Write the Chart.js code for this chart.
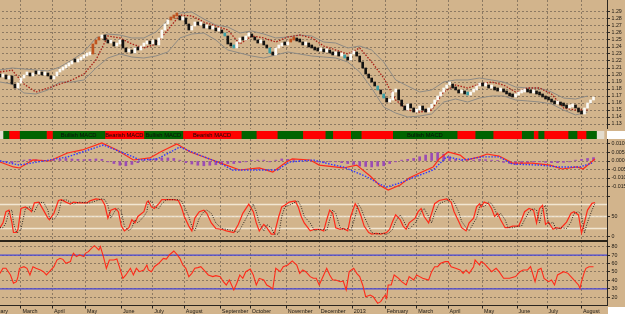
<!DOCTYPE html>
<html><head><meta charset="utf-8">
<script src="https://cdn.jsdelivr.net/npm/chart.js@4.4.1/dist/chart.umd.min.js"></script>
<style>
html,body{margin:0;padding:0;width:625px;height:314px;overflow:hidden;background:#D2B48C;}
canvas{position:absolute;}
.box{position:absolute;}
</style></head><body>
<canvas id="cPrice" width="655" height="129" style="left:-30px;top:0"></canvas>
<canvas id="cStatus" width="637" height="8" style="left:-30px;top:131px"></canvas>
<canvas id="cMacd" width="655" height="54" style="left:-30px;top:139px"></canvas>
<canvas id="cStoch" width="655" height="48" style="left:-30px;top:193px"></canvas>
<canvas id="cRsi" width="655" height="73" style="left:-30px;top:241px"></canvas>
<div class="box" style="left:0;top:240px;width:607px;height:2px;background:#2b2419"></div>
<div class="box" style="left:607px;top:131px;width:18px;height:8px;background:#fff"></div>
<div class="box" style="left:608px;top:307px;width:17px;height:7px;background:#fff"></div>
<script>
// ---------- DATA (x unit = trading day) ----------
const X_MIN = -20, X_MAX = 405;
const monthDays   = [-10,14,35,57,81,102,123,147,167,191,213,235,257,278,299,322,345,365,388];
const monthLabels = ['February','March','April','May','June','July','August','September','October','November','December','2013','February','March','April','May','June','July','August'];

// closes sampled every 2 trading days
const PRICE_STEP = 2;
const closes = [
1.1971,1.2000,1.1943,1.1986,1.1871,1.1814,1.1886,1.1957,1.2000,1.2014,
1.1986,1.2029,1.2014,1.2043,1.2000,1.2014,1.1986,1.1943,1.1986,1.2043,
1.2071,1.2100,1.2129,1.2157,1.2186,1.2186,1.2214,1.2243,1.2271,1.2286,
1.2300,1.2443,1.2500,1.2529,1.2571,1.2500,1.2457,1.2471,1.2414,1.2443,
1.2500,1.2386,1.2329,1.2357,1.2314,1.2386,1.2357,1.2414,1.2443,1.2471,
1.2443,1.2500,1.2429,1.2529,1.2643,1.2729,1.2786,1.2814,1.2857,1.2843,
1.2786,1.2814,1.2729,1.2643,1.2700,1.2757,
1.2714,1.2729,1.2671,1.2686,1.2657,1.2671,1.2629,1.2643,1.2600,1.2557,
1.2443,1.2414,1.2386,1.2471,1.2529,1.2500,1.2557,1.2586,1.2543,1.2500,
1.2457,1.2486,1.2429,1.2386,1.2314,1.2286,1.2386,1.2414,1.2443,1.2429,
1.2471,1.2500,1.2514,1.2486,1.2471,1.2429,1.2457,1.2400,1.2386,1.2357,
1.2343,1.2371,1.2329,1.2357,1.2314,1.2286,1.2329,1.2271,1.2286,1.2243,
1.2214,1.2300,1.2329,1.2271,1.2186,1.2100,1.2014,1.1957,1.1900,1.1843,
1.1786,1.1729,1.1671,1.1614,1.1643,1.1757,1.1786,1.1643,1.1557,1.1500,
1.1586,1.1529,1.1471,1.1500,
1.1557,1.1500,1.1471,1.1529,1.1586,1.1643,1.1700,1.1757,1.1814,1.1857,
1.1871,1.1814,1.1786,1.1743,1.1771,1.1729,1.1714,1.1757,1.1786,1.1843,
1.1871,1.1843,1.1857,1.1814,1.1829,1.1786,1.1771,1.1800,1.1757,1.1729,
1.1700,1.1686,1.1714,1.1743,1.1757,1.1786,1.1757,1.1743,1.1771,1.1729,
1.1714,1.1686,1.1657,1.1643,1.1614,1.1586,1.1600,1.1571,1.1557,1.1529,
1.1543,1.1571,1.1529,1.1471,1.1443,1.1529,1.1600,1.1643,1.1671];
const cyanDays   = [150,156,180,230,252,256,312];
const orangeDays = [62,64,66,114,116,118,194,196];

// bands and stop line sampled every 8 trading days
const BAND_STEP = 8;
const bandUpper = [1.2071,1.2100,1.2086,1.2071,1.2057,1.2114,1.2214,1.2329,1.2529,1.2586,
1.2571,1.2529,1.2529,1.2614,1.2786,1.2886,1.2900,1.2800,1.2714,1.2686,
1.2600,1.2629,1.2586,1.2529,1.2543,1.2571,1.2557,1.2471,1.2457,1.2386,
1.2414,1.2357,1.2186,1.1929,1.1843,1.1757,1.1786,1.1900,1.1929,1.1929,
1.1957,1.1929,1.1900,1.1829,1.1814,1.1814,1.1757,1.1671,1.1657,1.1700];
const bandLower = [1.1900,1.1871,1.1743,1.1729,1.1786,1.1900,1.1900,1.1929,1.2100,1.2243,
1.2300,1.2257,1.2243,1.2271,1.2329,1.2529,1.2586,1.2600,1.2500,1.2357,
1.2314,1.2271,1.2243,1.2286,1.2329,1.2300,1.2271,1.2257,1.2243,1.2186,
1.2043,1.1814,1.1543,1.1457,1.1400,1.1414,1.1443,1.1614,1.1657,1.1614,
1.1671,1.1700,1.1700,1.1643,1.1629,1.1614,1.1586,1.1500,1.1429,1.1471];
const stopLine = [1.2043,1.2071,1.1871,1.1757,1.1814,1.1871,1.1929,1.2014,1.2214,1.2557,
1.2529,1.2443,1.2386,1.2443,1.2643,1.2857,1.2843,1.2757,1.2700,1.2643,
1.2443,1.2557,1.2529,1.2471,1.2543,1.2571,1.2529,1.2414,1.2357,1.2300,
1.2386,1.2186,1.1957,1.1643,1.1500,1.1471,1.1500,1.1757,1.1857,1.1814,
1.1871,1.1900,1.1857,1.1757,1.1814,1.1814,1.1729,1.1529,1.1500,1.1500];
const priceTicks = [1.13,1.14,1.15,1.16,1.17,1.18,1.19,1.20,1.21,1.22,1.23,1.24,1.25,1.26,1.27,1.28,1.29];

// MACD status strip
const segBounds = [0,2,6,13,31,35,70,96,122,161,171,185,202,217,222,234,241,262,305,317,329,348,356,359,363,379,385,391,398,403];
const segStates = ['N','B','S','B','S','B','S','B','S','B','S','B','S','B','S','B','S','B','S','B','S','B','S','B','S','B','S','B','N'];

// MACD
const macdDays = [0,9,13,22,33,45,55,68,78,89,100,107,118,127,138,151,160,173,182,191,195,207,213,229,238,247,253,259,267,273,280,289,293,299,307,311,320,325,333,342,355,367,375,385,389,397];
const macdVals = [-0.0006,-0.0035,-0.0041,0.0006,0,0.0047,0.0065,0.0106,0.0065,0.0006,
0.0018,0.0053,0.0100,0.0053,0.0018,-0.0024,-0.0053,-0.0041,-0.0065,-0.0006,
0.0012,0.0006,-0.0024,-0.0041,-0.0024,-0.0088,-0.0141,-0.0171,-0.0141,-0.0100,
-0.0071,-0.0035,0.0012,0.0053,0.0035,0.0006,0.0024,0.0041,0.0029,-0.0012,
-0.0012,-0.0024,-0.0047,-0.0035,-0.0047,0.0012];
const signalDays = [0,13,33,45,55,69,89,93,105,120,133,147,155,169,185,193,209,220,229,245,253,258,267,275,289,298,309,322,333,342,360,373,387,395];
const signalVals = [0,-0.0024,0.0006,0.0024,0.0053,0.0094,0.0024,0.0006,0.0012,0.0082,
0.0035,-0.0012,-0.0053,-0.0053,-0.0053,-0.0006,0.0006,-0.0018,-0.0035,-0.0094,
-0.0135,-0.0153,-0.0129,-0.0100,-0.0053,0.0024,0.0006,0.0024,0.0024,-0.0018,
-0.0024,-0.0035,-0.0035,-0.0012];
const HIST_STEP = 4;
const histVals = [0.0003,-0.0005,-0.001,-0.0005,0.0005,0.001,0.0008,0.0005,0.0002,0.0005,
0.001,0.0015,0.0012,0.001,0.0008,0.001,0.0012,0.001,-0.0005,-0.0015,
-0.0025,-0.0028,-0.002,-0.001,0.0005,0.001,0.0015,0.0018,0.0018,0.0015,
0.0005,-0.001,-0.0018,-0.0025,-0.0028,-0.0025,-0.0022,-0.0018,-0.0015,-0.0015,
-0.001,-0.0005,0.0003,0.0005,0.0005,-0.0005,0.0005,0.0012,0.001,0.0008,
0.0003,0.0002,-0.0003,-0.0005,-0.0008,-0.0005,-0.0005,-0.001,-0.0015,-0.002,
-0.003,-0.0032,-0.0035,-0.003,-0.0028,-0.0015,-0.0005,0.0005,0.001,0.0015,
0.0025,0.0035,0.0045,0.005,0.004,0.0025,0.001,0.0005,0.0003,0.0005,
0.001,0.0008,0.0005,0.0002,-0.0008,-0.0015,-0.002,-0.0015,-0.001,-0.0005,
-0.0005,-0.0008,-0.001,-0.001,-0.0008,-0.0005,0.0005,0.001,0.0015,0.002];
const macdTicks = [-0.015,-0.010,-0.005,0,0.005,0.010];

// Stochastic
const stochDays = [0,2,4,6,8,9,11,12,14,17,20,21,23,26,29,32,33,36,39,41,44,47,49,53,58,60,64,68,70,72,
74,77,79,81,83,86,88,90,92,96,98,99,101,103,106,108,111,116,119,121,123,126,128,130,133,136,138,141,144,148,
151,156,159,162,166,169,171,173,176,178,181,183,186,188,190,193,197,199,201,203,207,210,213,216,218,220,222,224,227,229,
232,234,237,239,241,243,246,248,251,254,258,260,262,264,267,269,271,273,277,279,281,283,286,288,290,293,298,301,303,306,
308,311,313,316,318,320,321,323,326,328,330,332,334,337,339,342,346,348,350,353,356,358,360,362,364,366,369,371,374,378,
381,383,386,388,390,392,395,397];
const stochK = [22,34,62,66,34,10,10,18,70,74,66,62,84,86,66,46,42,58,90,92,86,81,86,84,84,89,94,92,78,46,
66,70,62,26,14,22,42,34,50,62,86,89,74,70,82,92,92,92,90,74,50,26,14,46,62,66,58,34,20,18,
14,10,30,58,81,62,34,14,30,22,6,6,50,74,78,86,89,74,50,34,14,18,18,14,42,66,58,22,18,20,
14,50,82,70,50,26,10,6,8,6,10,18,38,54,42,26,18,34,46,62,70,50,34,58,82,90,94,86,62,38,
22,14,34,46,74,82,74,86,82,70,50,58,42,22,22,26,26,42,62,70,66,34,70,78,30,36,18,22,20,36,
58,62,54,9,36,66,83,85];
const stochD = [22,22,34,62,66,34,10,10,18,70,74,66,62,84,86,66,46,42,58,90,92,86,81,86,84,84,89,94,92,78,
46,66,70,62,26,14,22,42,34,50,62,86,89,74,70,82,92,92,92,90,74,50,26,14,46,62,66,58,34,20,
18,14,10,30,58,81,62,34,14,30,22,6,6,50,74,78,86,89,74,50,34,14,18,18,14,42,66,58,22,18,
20,14,50,82,70,50,26,10,6,8,6,10,18,38,54,42,26,18,34,46,62,70,50,34,58,82,90,94,86,62,
38,22,14,34,46,74,82,74,86,82,70,50,58,42,22,22,26,26,42,62,70,66,34,70,78,30,36,18,22,20,
36,58,62,54,9,36,66,83];
const stochLevels = [20,50,80];
const stochTicks = [0,50,100];

// RSI
const rsiDays = [0,2,4,7,9,11,12,13,16,18,20,22,24,27,29,31,33,36,38,40,42,44,47,48,49,51,53,56,57,59,
61,63,66,67,69,71,73,76,78,80,82,84,87,89,91,93,96,98,99,101,103,106,109,111,113,116,118,120,122,124,
126,128,130,132,134,137,139,142,144,147,149,151,153,156,158,160,162,164,167,169,171,173,176,178,180,182,184,187,189,192,
195,198,200,202,204,207,209,211,213,216,218,220,222,224,227,229,231,233,236,238,240,242,244,247,249,252,254,257,258,259,
261,263,266,268,271,273,276,278,280,282,286,288,290,292,294,297,299,301,304,307,309,311,313,316,317,320,321,323,326,328,
331,333,336,340,344,347,349,352,354,357,359,361,363,366,368,370,372,376,379,382,386,387,388,390,391,393,396];
const rsiVals = [48.4,54.4,54.4,46.5,36.6,38.5,44.5,54.4,56.3,54.4,46.5,56.3,54.4,52.4,50.4,46.5,50.4,56.3,64.2,66.2,
65.0,60.3,62.3,68.2,72.2,68.2,70.2,68.2,72.2,74.1,78.1,81.2,76.1,80.1,68.2,54.4,64.2,64.2,65.4,54.4,
42.5,46.5,54.4,46.5,54.4,50.4,52.4,58.3,52.4,50.4,56.3,60.3,66.2,65.4,70.2,74.9,71.0,66.2,58.3,54.4,
44.5,48.4,54.4,55.2,56.3,50.4,46.5,44.5,45.7,44.5,38.5,34.6,40.5,28.7,36.6,46.5,42.5,50.4,53.6,46.5,
34.6,42.5,40.5,34.6,32.6,29.8,54.4,50.4,56.3,58.3,63.1,58.3,
48.4,52.4,50.4,44.5,42.5,42.5,34.6,46.5,54.4,46.5,40.5,40.5,38.5,39.3,28.7,50.4,54.4,48.4,44.5,34.6,
20.7,22.7,20.7,12.8,14.8,22.7,18.8,34.6,34.6,46.5,42.5,38.5,34.6,44.5,40.5,46.5,44.5,42.5,40.5,50.4,
56.3,56.3,60.3,62.3,62.3,56.3,54.4,52.4,48.4,52.4,48.4,56.3,64.2,58.3,62.3,60.3,54.4,50.4,54.4,50.4,
42.5,42.5,44.5,50.4,52.4,52.4,56.3,38.5,52.4,54.4,42.5,38.5,40.5,34.6,46.5,50.4,48.4,42.5,34.6,30.6,
38.5,50.4,54.4,56.3,56.3];
const rsiLevels = [30,70];
const rsiTicks = [20,30,40,50,60,70,80];

// ---------- RENDERING ----------
const FONT = 'Liberation Sans';
const GRID = 'rgba(70,62,55,0.5)';
const AXIS = '#2b2620';

function xAxis(withLabels, showBorder){
  return {
    type:'linear', min:X_MIN, max:X_MAX, position:'bottom', offset:false,
    afterBuildTicks: s => { s.ticks = monthDays.map(v => ({value:v})); },
    afterFit: s => { s.height = withLabels ? 8.5 : 0; s.paddingLeft = 0; s.paddingRight = 0; },
    ticks: { display: withLabels, autoSkip:false, maxRotation:0, minRotation:0, align:'start', labelOffset:1.5, padding:0,
             color:'#1e1a14', font:{family:FONT, size:5.4}, callback:(v,i) => monthLabels[i] },
    grid: { offset:false, color:GRID, lineWidth:1, drawTicks:withLabels, tickLength:3, tickColor:AXIS, tickBorderDash:[] },
    border: { display:showBorder, color:AXIS, width:1, dash:[2,2] }
  };
}
function yAxis(min, max, ticks, fmt){
  return {
    type:'linear', position:'right', min, max,
    afterBuildTicks: s => { s.ticks = ticks.map(v => ({value:v})); },
    afterFit: s => { s.width = 18; s.paddingTop = 0; s.paddingBottom = 0; },
    ticks: { autoSkip:false, padding:1.5, color:'#1e1a14', font:{family:FONT, size:5.3}, callback: v => fmt(v) },
    grid: { color:GRID, lineWidth:1, drawTicks:true, tickLength:3, tickColor:AXIS, tickBorderDash:[] },
    border: { display:true, color:AXIS, width:1, dash:[2,2] }
  };
}
const base = { responsive:false, animation:false, devicePixelRatio:1, events:[],
  layout:{padding:0}, plugins:{legend:{display:false}, tooltip:{enabled:false}} };
const line = (pts, color, width, dash, order) => ({ type:'line', data:pts, borderColor:color, borderWidth:width,
  borderDash:dash, pointRadius:0, tension:0, fill:false, order });
const series = (days, vals) => vals.map((v,i) => ({x:days[i], y:v}));
const stepped = (step, vals) => vals.map((v,i) => ({x:i*step, y:v}));

// Price panel
const candles = closes.map((c,i) => ({x:i*PRICE_STEP, y:[i ? closes[i-1] : c, c]}));
const candleColors = closes.map((c,i) => {
  const d = i*PRICE_STEP;
  if (cyanDays.includes(d)) return '#3b9ea6';
  if (orangeDays.includes(d)) return '#c0531f';
  return (i && c > closes[i-1]) ? '#fbfaf5' : '#121212';
});
new Chart(document.getElementById('cPrice'), {
  type:'bar',
  data:{ datasets:[
    { type:'bar', data:candles, backgroundColor:candleColors, barThickness:2, minBarLength:3, order:0 },
    line(stepped(BAND_STEP, bandUpper), '#8d8a84', 1, [], 2),
    line(stepped(BAND_STEP, bandLower), '#8d8a84', 1, [], 2),
    line(stepped(BAND_STEP, stopLine), '#a81f17', 1.3, [1.5,1.5], 1)
  ]},
  options:{ ...base, scales:{
    x: xAxis(false, false),
    y: yAxis(1.29 - 117/700, 1.29 + 12/700, priceTicks, v => v.toFixed(2))
  }}
});

// Status strip
const statusText = {
  id:'statusText',
  afterDatasetsDraw(chart){
    const {ctx, scales:{x}, chartArea} = chart;
    ctx.save();
    ctx.font = '5.8px "' + FONT + '"'; ctx.fillStyle = '#0c0c0c';
    ctx.textAlign = 'center'; ctx.textBaseline = 'middle';
    segStates.forEach((s,i) => {
      const a = segBounds[i], b = segBounds[i+1];
      if (s !== 'N' && b - a >= 25)
        ctx.fillText(s === 'B' ? 'Bullish MACD' : 'Bearish MACD', x.getPixelForValue((a+b)/2), (chartArea.top+chartArea.bottom)/2 + 0.5);
    });
    ctx.restore();
  }
};
const stateColor = {B:'#006400', S:'#ff0000', N:'#e4dccd'};
new Chart(document.getElementById('cStatus'), {
  type:'bar',
  data:{ labels:['MACD'], datasets: segStates.map((s,i) => ({
    data:[[segBounds[i], segBounds[i+1]]], backgroundColor:stateColor[s], grouped:false,
    barPercentage:1, categoryPercentage:1 })) },
  options:{ ...base, indexAxis:'y', scales:{
    x:{ type:'linear', min:X_MIN, max:X_MAX, display:false },
    y:{ display:false }
  }},
  plugins:[statusText]
});

// MACD panel
new Chart(document.getElementById('cMacd'), {
  type:'bar',
  data:{ datasets:[
    { type:'bar', data:stepped(HIST_STEP, histVals), backgroundColor:'#9a4cb4', barThickness:2, order:3 },
    line(series(signalDays, signalVals), '#2f38ff', 1.4, [1.5,1.5], 1),
    line(series(macdDays, macdVals), '#ff2a1a', 1.2, [], 2)
  ]},
  options:{ ...base, scales:{
    x: xAxis(false, false),
    y: yAxis(-32/1700, 22/1700, macdTicks, v => v.toFixed(3))
  }}
});

// Stochastic panel
new Chart(document.getElementById('cStoch'), {
  type:'line',
  data:{ datasets:[
    ...stochLevels.map(l => line([{x:X_MIN,y:l},{x:X_MAX,y:l}], 'rgba(250,242,228,0.8)', 1.6, [], 5)),
    line(series(stochDays, stochK), '#ff2a1a', 1.2, [], 2),
    line(series(stochDays, stochD), '#2a2420', 1, [1,1.5], 1)
  ]},
  options:{ ...base, scales:{
    x: xAxis(false, false),
    y: yAxis(-4.5/0.4, 43.5/0.4, stochTicks, v => v === 100 ? '' : String(v))
  }}
});

// RSI panel
new Chart(document.getElementById('cRsi'), {
  type:'line',
  data:{ datasets:[
    ...rsiLevels.map(l => line([{x:X_MIN,y:l},{x:X_MAX,y:l}], '#4646d8', 1.3, [], 5)),
    line(series(rsiDays, rsiVals), '#ff2a1a', 1.1, [], 1)
  ]},
  options:{ ...base, scales:{
    x: xAxis(true, true),
    y: yAxis(20 - 8.2/0.843, 80 + 5.7/0.843, rsiTicks, v => String(v))
  }}
});
</script>
</body></html>
